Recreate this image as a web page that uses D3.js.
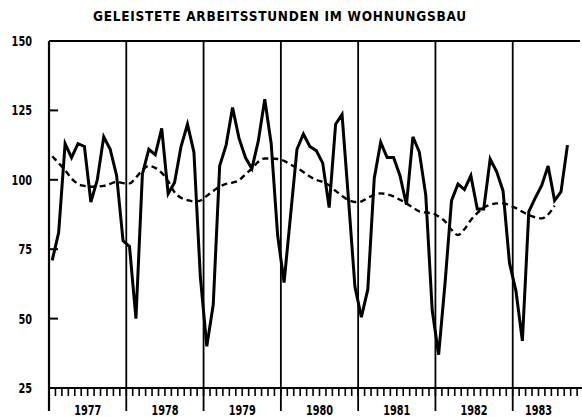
<!DOCTYPE html>
<html>
<head>
<meta charset="utf-8">
<script src="https://cdn.jsdelivr.net/npm/d3@7"></script>
<style>
  html, body { margin: 0; padding: 0; background: #fff; }
  svg { display: block; }
  text { font-family: "Liberation Sans Narrow", "DejaVu Sans Condensed", "Arial Narrow", sans-serif; font-weight: bold; fill: #000; }
</style>
</head>
<body>
<script>
const title = "GELEISTETE ARBEITSSTUNDEN IM WOHNUNGSBAU";
const years = [1977, 1978, 1979, 1980, 1981, 1982, 1983];
const yTicks = [25, 50, 75, 100, 125, 150];
// monthly index (0 = Jan 1977)
const actual = [
  71, 81, 113, 108, 113, 112, 92, 100, 115.5, 111, 101.5, 78,
  76, 50, 102, 111, 109, 118.5, 95, 99, 112, 120, 110, 65,
  40, 55, 105, 112.5, 126, 115, 108, 104, 114, 129, 113, 80,
  63, 87, 111, 116.5, 112, 110.5, 106, 90, 120, 123.5, 93, 61.5,
  50.5, 60.5, 100.5, 113.5, 108, 108, 101.5, 91, 115.5, 110, 94.5, 53,
  37, 63, 92.5, 98.5, 96.5, 101.5, 89.5, 89.5, 107.5, 103, 96, 70,
  60, 42, 88.5, 93.5, 98, 105, 92.5, 95.7, 112.5
];
const trend = [
  108.5, 106, 103.5, 100.5, 98.5, 97.8, 97.5, 97.6, 97.8, 98.5, 99.3, 98.8,
  98.7, 100.8, 103.5, 105, 104.3, 102.5, 99.5, 95.5, 93.5, 92.7, 92.2, 92.5,
  94.2, 96, 97.5, 98.5, 99, 99.8, 102, 104, 106.5, 107.7, 107.7, 107.5,
  106.8, 105.5, 104.3, 102.8, 101.2, 100, 99.2, 98, 96, 94.2, 92.7, 92,
  92.2, 93.5, 94.6, 95.1, 94.8, 94, 92.8, 91.5, 90, 88.6, 88.2, 88,
  86.8, 85, 82, 80.1, 82.2, 85.5, 88, 90, 91, 91.5, 91.5, 90.8,
  89.8, 88.5, 87.3, 86.5, 86.1, 87.5, 90.7
];

const W = 582, H = 417;
const svg = d3.select("body").append("svg").attr("width", W).attr("height", H);

const mL = 49, mR = 590, mT = 41, mB = 388;
const nMonths = years.length * 12;
const x = d3.scaleLinear().domain([0, nMonths]).range([mL, mR]);
const y = d3.scaleLinear().domain([25, 150]).range([mB, mT]);

// title
svg.append("text")
  .attr("x", 93).attr("y", 21)
  .attr("font-size", 13.5)
  .attr("textLength", 373).attr("lengthAdjust", "spacing")
  .text(title);

// monthly ticks below x axis
const monthTicks = d3.range(0, nMonths + 1);
svg.append("g").selectAll("line").data(monthTicks).join("line")
  .attr("x1", d => x(d)).attr("x2", d => x(d))
  .attr("y1", mB).attr("y2", mB + 8)
  .attr("stroke", "#000").attr("stroke-width", 1.6);

// year divider lines (full height)
svg.append("g").selectAll("line").data(years).join("line")
  .attr("x1", (d, i) => x(i * 12)).attr("x2", (d, i) => x(i * 12))
  .attr("y1", mT).attr("y2", 411)
  .attr("stroke", "#000").attr("stroke-width", (d, i) => i === 0 ? 2.2 : 1.8);

// top and bottom frame lines
svg.append("line").attr("x1", mL).attr("x2", 580).attr("y1", mT).attr("y2", mT)
  .attr("stroke", "#000").attr("stroke-width", 2.2);
svg.append("line").attr("x1", mL).attr("x2", W).attr("y1", mB).attr("y2", mB)
  .attr("stroke", "#000").attr("stroke-width", 2.2);

// y axis inward ticks and labels
svg.append("g").selectAll("line").data(yTicks.filter(d => d > 25 && d < 150)).join("line")
  .attr("x1", mL).attr("x2", mL + 9)
  .attr("y1", d => y(d)).attr("y2", d => y(d))
  .attr("stroke", "#000").attr("stroke-width", 2);
svg.append("g").selectAll("text").data(yTicks).join("text")
  .attr("x", 32).attr("y", d => y(d))
  .attr("text-anchor", "end").attr("dominant-baseline", "central")
  .attr("font-size", 14)
  .attr("textLength", d => String(d).length * 6.8)
  .attr("lengthAdjust", "spacingAndGlyphs")
  .text(d => d);

// year labels
const lastMonth = actual.length;
svg.append("g").selectAll("text").data(years).join("text")
  .attr("x", (d, i) => (x(i * 12) + x(Math.min((i + 1) * 12, lastMonth - 1))) / 2)
  .attr("y", 415)
  .attr("text-anchor", "middle")
  .attr("font-size", 14)
  .attr("textLength", 27)
  .attr("lengthAdjust", "spacingAndGlyphs")
  .text(d => d);

// trend (dashed)
const trendLine = d3.line().x((d, i) => x(i + 0.5)).y(d => y(d)).curve(d3.curveMonotoneX);
svg.append("path").datum(trend)
  .attr("d", trendLine)
  .attr("fill", "none").attr("stroke", "#000")
  .attr("stroke-width", 2.4).attr("stroke-dasharray", "6,4");

// actual (solid)
const actLine = d3.line().x((d, i) => x(i + 0.5)).y(d => y(d));
svg.append("path").datum(actual)
  .attr("d", actLine)
  .attr("fill", "none").attr("stroke", "#000")
  .attr("stroke-width", 3).attr("stroke-linejoin", "miter");
</script>
</body>
</html>
